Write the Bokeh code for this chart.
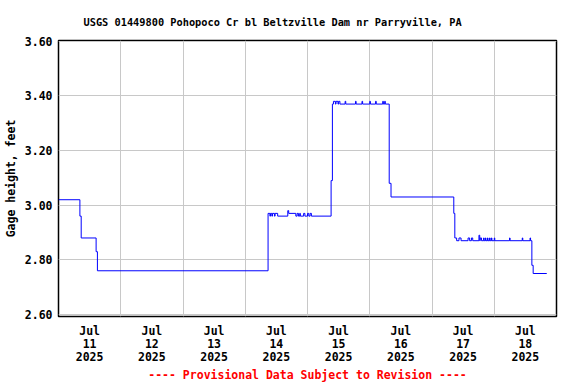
from bokeh.plotting import figure
from bokeh.models import FixedTicker, Range1d, PrintfTickFormatter
from bokeh.embed import file_html
from bokeh.resources import INLINE

# hours since 2025-07-11 00:00 (step changes) and gage height, feet
hours = [0.0, 8.25, 8.75, 14.5, 15.0,
         80.8, 81.5, 81.75, 82.25, 82.5, 83.25, 83.5, 84.5,
         88.4, 88.75, 91.5, 92.0, 92.5, 93.0, 93.25, 94.5, 95.0, 96.0, 96.5, 97.0, 97.5,
         105.1, 105.6, 106.0, 106.75, 107.0, 107.75, 108.0, 108.5,
         110.5, 110.75, 114.5, 114.75, 117.0, 117.25, 120.0, 120.25,
         122.25, 122.5, 125.0, 125.25, 125.75, 126.0,
         127.5, 128.2,
         152.4, 152.8, 153.5,
         154.4, 155.2, 157.9, 158.5, 159.2, 159.7, 162.1, 162.4, 162.6, 163.1,
         163.9, 164.1, 164.6, 164.8, 165.4, 165.6, 166.2, 166.4, 166.9, 167.1,
         168.0, 168.2, 173.9, 174.1, 178.8, 179.0, 181.8, 182.0,
         182.5, 183.0, 188.25]
gage_ft = [3.02, 2.96, 2.88, 2.83, 2.76,
           2.97, 2.96, 2.97, 2.96, 2.97, 2.96, 2.97, 2.96,
           2.98, 2.97, 2.96, 2.97, 2.96, 2.97, 2.96, 2.97, 2.96, 2.97, 2.96, 2.97, 2.96,
           3.09, 3.37, 3.38, 3.37, 3.38, 3.37, 3.38, 3.37,
           3.38, 3.37, 3.38, 3.37, 3.38, 3.37, 3.38, 3.37,
           3.38, 3.37, 3.38, 3.37, 3.38, 3.37,
           3.08, 3.03,
           2.97, 2.88, 2.87,
           2.88, 2.87, 2.88, 2.87, 2.88, 2.87, 2.89, 2.87, 2.88, 2.87,
           2.88, 2.87, 2.88, 2.87, 2.88, 2.87, 2.88, 2.87, 2.88, 2.87,
           2.88, 2.87, 2.88, 2.87, 2.88, 2.87, 2.88, 2.87,
           2.78, 2.75, 2.75]

day_labels = ["Jul\n11\n2025", "Jul\n12\n2025", "Jul\n13\n2025", "Jul\n14\n2025",
              "Jul\n15\n2025", "Jul\n16\n2025", "Jul\n17\n2025", "Jul\n18\n2025"]
label_hours = [12 + 24 * i for i in range(len(day_labels))]
midnight_hours = [24 * i for i in range(1, 8)]
y_ticks = [2.6, 2.8, 3.0, 3.2, 3.4, 3.6]

FONT = "DejaVu Sans Mono"

p = figure(width=576, height=384, output_backend="svg", toolbar_location=None,
           x_range=Range1d(0, 192), y_range=Range1d(2.5927, 3.6026),
           min_border_left=58, min_border_right=20, min_border_top=40, min_border_bottom=68,
           title="USGS 01449800 Pohopoco Cr bl Beltzville Dam nr Parryville, PA")

p.step(hours, gage_ft, mode="after", line_color="#0000ff", line_width=1)

p.title.text_font = FONT
p.title.text_font_size = "10.3px"
p.title.text_font_style = "bold"
p.title.text_color = "black"
p.title.align = "left"
p.title.offset = 25
p.title.standoff = 26

p.outline_line_color = "black"
p.outline_line_width = 1.5

p.xaxis.ticker = FixedTicker(ticks=label_hours)
p.xaxis.major_label_overrides = {h: lab for h, lab in zip(label_hours, day_labels)}
p.xgrid.ticker = FixedTicker(ticks=midnight_hours)
p.yaxis.ticker = FixedTicker(ticks=y_ticks)
p.yaxis.formatter = PrintfTickFormatter(format="%.2f")

for ax in (p.xaxis[0], p.yaxis[0]):
    ax.axis_line_color = None
    ax.major_tick_line_color = None
    ax.minor_tick_line_color = None
    ax.major_tick_out = 0
    ax.major_tick_in = 0
    ax.minor_tick_out = 0
    ax.minor_tick_in = 0
    ax.major_label_text_font = FONT
    ax.major_label_text_font_size = "11.5px"
    ax.major_label_text_font_style = "bold"
    ax.major_label_text_color = "black"
    ax.axis_label_text_font = FONT
    ax.axis_label_text_font_size = "11.5px"
    ax.axis_label_text_font_style = "bold"

p.xaxis.major_label_standoff = 7
p.xaxis.major_label_text_line_height = 0.93
p.xaxis.axis_label = "---- Provisional Data Subject to Revision ----"
p.xaxis.axis_label_text_color = "#ff0000"
p.xaxis.axis_label_standoff = 1

p.yaxis.major_label_standoff = 6
p.yaxis.axis_label = "Gage height, feet"
p.yaxis.axis_label_text_color = "black"
p.yaxis.axis_label_standoff = 4

p.xgrid.grid_line_color = "#c8c8c8"
p.ygrid.grid_line_color = "#c8c8c8"
p.xgrid.grid_line_width = 1
p.ygrid.grid_line_width = 1

p.background_fill_color = "white"
p.border_fill_color = "white"

open("out.html", "w").write(file_html(p, INLINE))
